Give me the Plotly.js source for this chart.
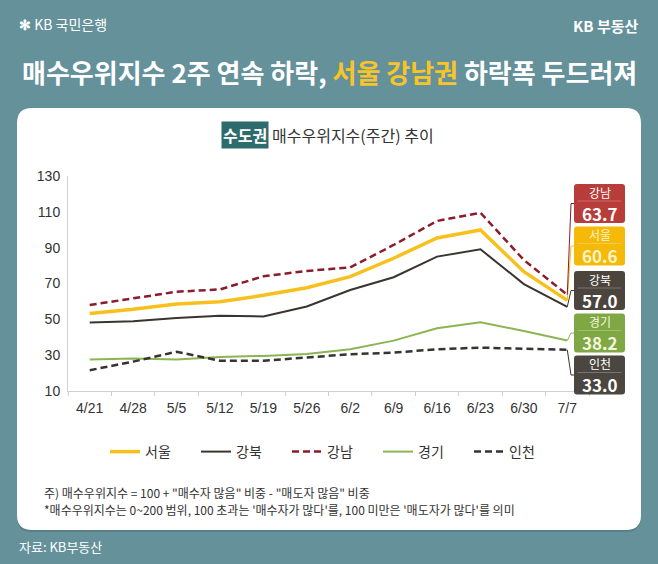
<!DOCTYPE html>
<html>
<head>
<meta charset="utf-8">
<script src="https://cdn.plot.ly/plotly-3.0.1.min.js"></script>
<style>
html,body{margin:0;padding:0;background:#64919a;}
#chart{width:658px;height:564px;}
</style>
</head>
<body>
<div id="chart"></div>
<script>
// ---- data ----
var weeks = ['4/21','4/28','5/5','5/12','5/19','5/26','6/2','6/9','6/16','6/23','6/30','7/7'];
var seoul    = [53.3, 55.6, 58.5, 59.8, 63.4, 67.6, 73.8, 84.1, 95.4, 99.9, 76.6, 60.6];
var gangbuk  = [48.3, 49.0, 50.7, 52.0, 51.6, 57.2, 66.4, 73.5, 85.0, 89.1, 69.7, 57.0];
var gangnam  = [58.0, 61.7, 65.4, 66.7, 74.0, 77.0, 79.0, 91.5, 104.9, 109.5, 83.1, 63.7];
var gyeonggi = [27.6, 28.2, 27.6, 29.0, 29.6, 30.6, 33.3, 38.1, 45.0, 48.3, 43.5, 38.2];
var incheon  = [21.6, 26.4, 31.9, 26.9, 26.9, 28.8, 30.5, 31.4, 33.3, 34.2, 33.8, 33.0];
var yTicks = [10, 30, 50, 70, 90, 110, 130];

// ---- layout helpers (pixel -> paper / data) ----
var W = 658, H = 564, L = 68, R = 69, T = 176, B = 173;
var PW = W - L - R, PH = H - T - B;
var Y0 = 10, Y1 = 130;
function pxX(x){ return (x - L) / PW; }
function pxY(y){ return (H - B - y) / PH; }
var catW = PW / weeks.length;
function dataXFromPx(x){ return (x - L) / catW - 0.5; }
function dataYFromPx(y){ return Y0 + (H - B - y) / PH * (Y1 - Y0); }
function roundRect(x0, y0, x1, y1, r){
  var rx = r / PW, ry = r / PH;
  var X0 = pxX(x0), X1 = pxX(x1), Yt = pxY(y0), Yb = pxY(y1);
  return 'M' + (X0+rx) + ',' + Yt + ' L' + (X1-rx) + ',' + Yt +
    ' Q' + X1 + ',' + Yt + ' ' + X1 + ',' + (Yt-ry) +
    ' L' + X1 + ',' + (Yb+ry) + ' Q' + X1 + ',' + Yb + ' ' + (X1-rx) + ',' + Yb +
    ' L' + (X0+rx) + ',' + Yb + ' Q' + X0 + ',' + Yb + ' ' + X0 + ',' + (Yb+ry) +
    ' L' + X0 + ',' + (Yt-ry) + ' Q' + X0 + ',' + Yt + ' ' + (X0+rx) + ',' + Yt + ' Z';
}

var KR = '"Noto Sans CJK KR", "Noto Sans", sans-serif';

var series = [
  {name:'서울', y:seoul,    color:'#f8c01c', width:3.5, dash:'solid', box:'#f5b90a', txt:'#fff4c8', boxY:246},
  {name:'강북', y:gangbuk,  color:'#3b342e', width:2,   dash:'solid', box:'#4b453e', txt:'#ffffff', boxY:290.5},
  {name:'강남', y:gangnam,  color:'#8a1c2b', width:2.5, dash:'7px,4px', box:'#b83c3a', txt:'#ffffff', boxY:203.5},
  {name:'경기', y:gyeonggi, color:'#8cb552', width:2,   dash:'solid', box:'#7fa743', txt:'#f4f7df', boxY:333},
  {name:'인천', y:incheon,  color:'#363330', width:2.5, dash:'7px,4px', box:'#4b4640', txt:'#ffffff', boxY:375}
];

var traces = series.map(function(s){
  return {
    type:'scatter', mode:'lines', name:s.name, x:weeks, y:s.y,
    line:{color:s.color, width:s.width, dash:s.dash},
    hoverinfo:'skip'
  };
});

var boxCX = 599.5, boxW = 51, boxH = 39;
var lastIdx = weeks.length - 1;

var annotations = [
  {xref:'paper', yref:'paper', x:pxX(17), y:pxY(24), xanchor:'left', yanchor:'middle', showarrow:false,
   text:'<b>✻</b> KB 국민은행', font:{family:KR, size:14, color:'#ffffff'}},
  {xref:'paper', yref:'paper', x:pxX(641), y:pxY(25), xanchor:'right', yanchor:'middle', showarrow:false,
   text:'<b>KB 부동산</b>', font:{family:KR, size:15, color:'#ffffff'}},
  {xref:'paper', yref:'paper', x:pxX(329), y:pxY(71), xanchor:'center', yanchor:'middle', showarrow:false,
   text:'<b>매수우위지수 2주 연속 하락, <span style="color:#f7c52a">서울 강남권</span> 하락폭 두드러져</b>',
   font:{family:KR, size:26, color:'#ffffff'}},
  {xref:'paper', yref:'paper', x:pxX(269), y:pxY(135), xanchor:'right', yanchor:'middle', showarrow:false,
   text:'<b>수도권</b>', bgcolor:'#2d6b6c', borderpad:1, font:{family:KR, size:16, color:'#ffffff'}},
  {xref:'paper', yref:'paper', x:pxX(270), y:pxY(135), xanchor:'left', yanchor:'middle', showarrow:false,
   text:'매수우위지수(주간) 추이', font:{family:KR, size:16, color:'#333333'}},
  {xref:'paper', yref:'paper', x:pxX(42), y:pxY(492), xanchor:'left', yanchor:'middle', showarrow:false,
   text:'주) 매수우위지수 = 100 + "매수자 많음" 비중 - "매도자 많음" 비중', font:{family:KR, size:12, color:'#333333'}},
  {xref:'paper', yref:'paper', x:pxX(42), y:pxY(509), xanchor:'left', yanchor:'middle', showarrow:false,
   text:"*매수우위지수는 0~200 범위, 100 초과는 '매수자가 많다'를, 100 미만은 '매도자가 많다'를 의미", font:{family:KR, size:12, color:'#333333'}},
  {xref:'paper', yref:'paper', x:pxX(17), y:pxY(546), xanchor:'left', yanchor:'middle', showarrow:false,
   text:'자료: KB부동산', font:{family:KR, size:13, color:'#ffffff'}}
];

var shapes = [
  {type:'path', xref:'paper', yref:'paper', layer:'below', path:roundRect(17, 110, 641, 532, 15),
   fillcolor:'rgba(0,0,0,0.12)', line:{width:0}},
  {type:'path', xref:'paper', yref:'paper', layer:'below', path:roundRect(17, 108, 641, 530, 15),
   fillcolor:'#ffffff', line:{width:0}}
];

// end-of-line label boxes and leader lines
series.forEach(function(s){
  var v = s.y[lastIdx];
  var top = s.boxY - boxH / 2;
  shapes.push({type:'path', xref:'paper', yref:'paper', layer:'above',
    path:roundRect(boxCX - boxW / 2, top, boxCX + boxW / 2, top + boxH, 3),
    fillcolor:s.box, line:{width:0}});
  shapes.push({type:'line', xref:'paper', yref:'paper', layer:'above',
    x0:pxX(boxCX - 22), x1:pxX(boxCX + 22), y0:pxY(top + 17), y1:pxY(top + 17),
    line:{color:'rgba(255,255,255,0.25)', width:1}});
  var xa = lastIdx, xb = dataXFromPx(571), xc = dataXFromPx(boxCX - boxW / 2);
  var yb = dataYFromPx(s.boxY);
  shapes.push({type:'path', xref:'x', yref:'y', layer:'above',
    path:'M' + xa + ',' + v + ' L' + xb + ',' + yb + ' L' + xc + ',' + yb,
    line:{color:s.color, width:1}});
  annotations.push({xref:'paper', yref:'paper', x:pxX(boxCX), y:pxY(top + 8),
    xanchor:'center', yanchor:'middle', showarrow:false, borderpad:0,
    text:s.name, font:{family:KR, size:12, color:s.txt}});
  annotations.push({xref:'paper', yref:'paper', x:pxX(boxCX), y:pxY(top + 29),
    xanchor:'center', yanchor:'middle', showarrow:false, borderpad:0,
    text:'<b>' + v.toFixed(1) + '</b>', font:{family:KR, size:17, color:s.txt}});
});

var layout = {
  width:W, height:H,
  margin:{l:L, r:R, t:T, b:B, pad:0},
  paper_bgcolor:'#64919a',
  plot_bgcolor:'rgba(0,0,0,0)',
  font:{family:KR, color:'#333333'},
  showlegend:true,
  hovermode:false,
  legend:{orientation:'h', x:pxX(105), y:pxY(452), xanchor:'left', yanchor:'middle',
          font:{family:KR, size:14, color:'#333333'}, entrywidth:46, bgcolor:'rgba(0,0,0,0)'},
  xaxis:{type:'category', range:[-0.5, 11.5], showgrid:false, zeroline:false,
         showline:true, linecolor:'#d0d0d0', linewidth:1,
         ticks:'outside', tickson:'boundaries', ticklen:4, tickcolor:'#d0d0d0',
         tickfont:{family:'"Liberation Sans", Arial, sans-serif', size:14, color:'#333333'},
         ticklabelstandoff:4, fixedrange:true},
  yaxis:{range:[Y0, Y1], tickvals:yTicks, showgrid:false, zeroline:false,
         showline:true, linecolor:'#d0d0d0', linewidth:1, ticks:'',
         tickfont:{family:'"Liberation Sans", Arial, sans-serif', size:14, color:'#333333'},
         ticklabelstandoff:4, fixedrange:true},
  annotations:annotations,
  shapes:shapes
};

Plotly.newPlot('chart', traces, layout, {displayModeBar:false, staticPlot:true});
</script>
</body>
</html>
